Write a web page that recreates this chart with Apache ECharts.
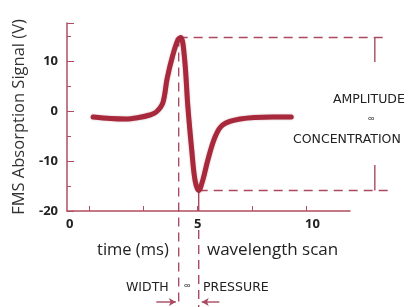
<!DOCTYPE html>
<html>
<head>
<meta charset="utf-8">
<script src="https://cdn.jsdelivr.net/npm/echarts@6/dist/echarts.min.js"></script>
<style>
html,body{margin:0;padding:0;background:#fff;}
#c{width:409px;height:307px;}
</style>
</head>
<body>
<div id="c"></div>
<script>
// ---- data ----
var signalX = [0.2, 1.0, 1.7, 2.3, 2.8, 3.1, 3.4, 3.6, 3.85, 4.1, 4.23, 4.4, 4.55, 4.73, 4.88, 5.05, 5.24, 5.47, 5.8, 6.15, 6.95, 8.45, 9.3];
var signalY = [-1.2, -1.5, -1.6, -1.3, -0.8, -0.2, 1.6, 6.5, 11, 14.3, 14.7, 10.5, 1, -7.8, -13.8, -15.9, -13.8, -9.8, -5.2, -2.8, -1.6, -1.2, -1.2];
var yTicks = [-20, -10, 0, 10];
var xTickValues = [0, 2.5, 5, 7.5, 10];
var xTickLabels = ['0', '5', '10'];
var peak = [4.13, 14.7];
var trough = [5.05, -15.9];
var yAxisTitle = 'FMS Absorption Signal (V)';
var texts = {
  time: 'time (ms)', scan: 'wavelength scan',
  width: 'WIDTH', prop: '\u221e', pressure: 'PRESSURE',
  amp: 'AMPLITUDE', conc: 'CONCENTRATION'
};

// ---- build ----
var red = '#a8283c';
var dashRed = '#a94a60';
var axisRed = '#b24c62';
var font = '"Open Sans", "Noto Sans", sans-serif';
var capsFont = '"DejaVu Sans", sans-serif';
var curve = signalX.map(function (x, i) { return [x, signalY[i]]; });
var bracketX = 13.14, endX = 13.75, bottomY = -39.2, arrowY = -38.2;
var labelPos = [-0.87, 5, 10.28];

function seg(pts, dashed, extra) {
  var s = {
    type: 'line', xAxisIndex: 1, yAxisIndex: 1, data: pts, symbol: 'none', silent: true, z: 1,
    lineStyle: { color: dashRed, width: 1.4, type: dashed ? [9, 6] : 'solid' }
  };
  if (extra) { for (var k in extra) s[k] = extra[k]; }
  return s;
}
function arrowTip(x, y, rot) {
  return { value: [x, y], symbol: 'arrow', symbolSize: [6, 7], symbolRotate: rot,
    itemStyle: { color: dashRed } };
}

var chart = echarts.init(document.getElementById('c'), null, { renderer: 'canvas' });
chart.setOption({
  animation: false,
  grid: [
    { left: 67, right: 59, top: 23, bottom: 96 },
    { left: 67, right: 0, top: 23, bottom: 0 }
  ],
  xAxis: [{
    type: 'value', min: -1, max: 12, gridIndex: 0,
    axisLine: { onZero: false, lineStyle: { color: axisRed, width: 1.5 } },
    axisTick: { show: true, inside: true, length: 5, customValues: xTickValues, lineStyle: { color: axisRed } },
    axisLabel: {
      customValues: labelPos,
      formatter: function (v) { return xTickLabels[labelPos.indexOf(v)]; },
      color: '#222', fontFamily: font, fontWeight: 'bold', fontSize: 13, margin: 7
    },
    splitLine: { show: false }
  }, {
    type: 'value', min: -1, max: 14.71, gridIndex: 1, show: false
  }],
  yAxis: [{
    type: 'value', min: -20, max: 17.6, interval: 10, gridIndex: 0,
    name: yAxisTitle, nameLocation: 'middle', nameGap: 38,
    nameTextStyle: { color: '#333', fontFamily: font, fontSize: 16.5 },
    axisLine: { show: true, onZero: false, lineStyle: { color: axisRed, width: 1.5 } },
    axisTick: { show: true, inside: true, length: 7, lineStyle: { color: axisRed } },
    minorTick: { show: true, splitNumber: 2, length: 4, lineStyle: { color: axisRed } },
    axisLabel: {
      formatter: function (v) { return yTicks.indexOf(v) >= 0 ? String(v) : ''; },
      color: '#222', fontFamily: font, fontWeight: 'bold', fontSize: 13, margin: 9
    },
    splitLine: { show: false }
  }, {
    type: 'value', min: -39.2, max: 17.6, gridIndex: 1, show: false
  }],
  series: [
    seg([[peak[0], peak[1]], [endX, peak[1]]], true),
    seg([[trough[0], trough[1]], [endX, trough[1]]], true),
    seg([[bracketX, peak[1]], [bracketX, 9.8]], false),
    seg([[bracketX, trough[1]], [bracketX, -10.8]], false),
    seg([[peak[0], peak[1]], [peak[0], bottomY]], true),
    seg([[trough[0], trough[1]], [trough[0], -20]], false),
    seg([[trough[0], -23.8], [trough[0], bottomY]], true),
    seg([[3.1, arrowY], arrowTip(4.0, arrowY, -90)], false, { showSymbol: true, clip: false }),
    seg([[6.0, arrowY], arrowTip(5.19, arrowY, 90)], false, { showSymbol: true, clip: false }),
    {
      type: 'line', data: curve, smooth: 0.35, symbol: 'none', clip: false, z: 5,
      lineStyle: { color: red, width: 5, cap: 'round', join: 'round',
        shadowColor: 'rgba(120,20,40,0.35)', shadowBlur: 2 }
    }
  ],
  graphic: [
    { type: 'text', left: 97, top: 242, style: { text: texts.time, font: '16.5px ' + font, fill: '#222' } },
    { type: 'text', left: 207, top: 242, style: { text: texts.scan, font: '17px ' + font, fill: '#222' } },
    { type: 'text', left: 126, top: 281, style: { text: texts.width, font: '12.5px ' + capsFont, fill: '#222' } },
    { type: 'text', left: 184, top: 281, style: { text: texts.prop, font: '10px ' + font, fill: '#222' } },
    { type: 'text', left: 203, top: 281, style: { text: texts.pressure, font: '12.5px ' + capsFont, fill: '#222' } },
    { type: 'text', left: 333, top: 93, style: { text: texts.amp, font: '12.5px ' + capsFont, fill: '#222' } },
    { type: 'text', left: 368, top: 114, style: { text: texts.prop, font: '10px ' + font, fill: '#222' } },
    { type: 'text', left: 293, top: 133, style: { text: texts.conc, font: '12.5px ' + capsFont, fill: '#222' } }
  ]
});
</script>
</body>
</html>
